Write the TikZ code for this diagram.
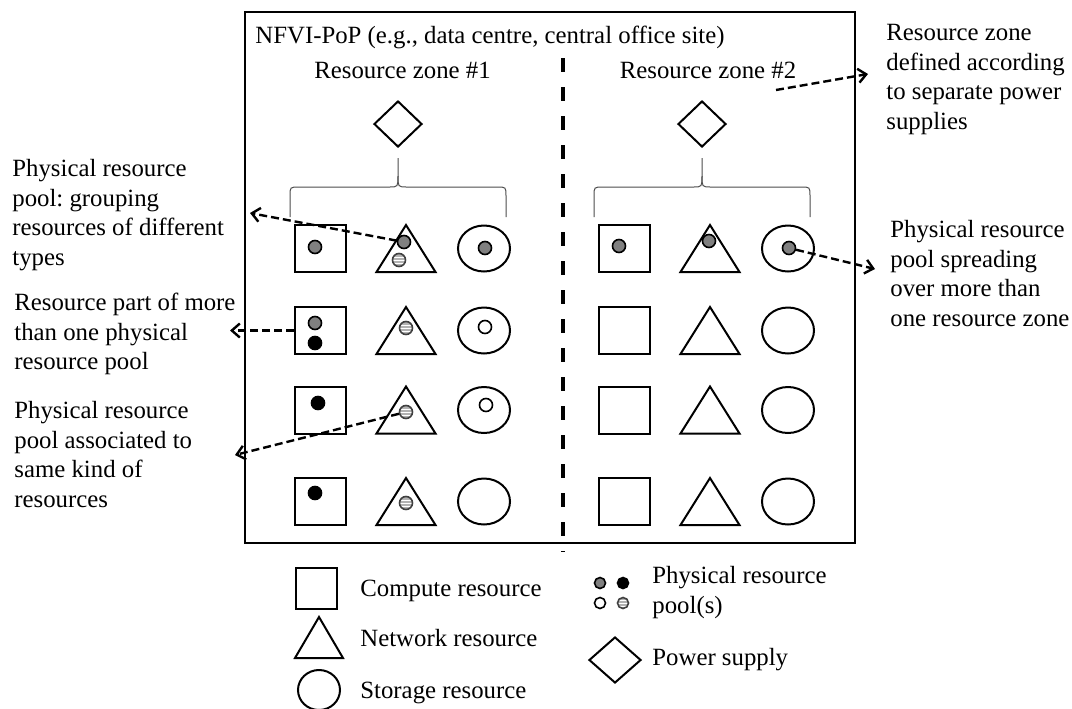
\documentclass[tikz,border=0pt]{standalone}
\usepackage{fontspec}
\setmainfont{Liberation Serif}
\usetikzlibrary{shapes.geometric}
\usetikzlibrary{arrows.meta}
\frenchspacing

\begin{document}
\begin{tikzpicture}[x=0.5pt,y=-0.5pt,
  font=\fontsize{12.4}{14.75}\selectfont,
  shp/.style={draw,line width=1pt},
  comp/.style={shp,rectangle,minimum width=25.5pt,minimum height=23.5pt,inner sep=0},
  stor/.style={shp,ellipse,minimum width=26pt,minimum height=23pt,inner sep=0},
  pwr/.style={shp,diamond,minimum width=24pt,minimum height=23pt,inner sep=0},
  dot/.style={circle,draw,line width=0.8pt,inner sep=0,minimum size=6.5pt},
  greydot/.style={dot,fill=gray},
  blackdot/.style={dot,fill=black},
  opendot/.style={dot,fill=white},
  hatchdot/.style={dot,draw=black!75,fill=gray!60,
    path picture={\foreach \d in {-1.5,0,1.5}
      \draw[white,line width=0.45pt] ([yshift=\d pt]path picture bounding box.west) -- ([yshift=\d pt]path picture bounding box.east);}},
  lbl/.style={anchor=north west,align=left,inner sep=0},
  parrow/.style={dash pattern=on 4pt off 2pt,line width=1.2pt,-{Straight Barb[length=4pt,width=7pt]}},
  brace/.style={draw=black!70,line width=0.5pt},
  netres/.pic={\draw[shp] (0,-23.5) -- (29.5,23.5) -- (-29.5,23.5) -- cycle;}
]
\useasboundingbox (0,0) rectangle (1072,708);

% NFVI-PoP
\draw[line width=1pt] (245,12) rectangle (855,543);
\node[anchor=base west,inner sep=0] (pop) at (255,43) {NFVI-PoP (e.g., data centre, central office site)};
\node[anchor=base,inner sep=0] (zone1) at (402.5,78) {Resource zone \#1};
\node[anchor=base,inner sep=0] (zone2) at (708,78) {Resource zone \#2};
\draw[line width=2.2pt,dash pattern=on 7pt off 7.5pt] (563,58) -- (563,552);

% power supplies and braces
\foreach \z/\dx in {1/0,2/304}{
  \node[pwr] (p\z) at (398+\dx,124) {};
  \draw[brace] (290+\dx,217) -- (290+\dx,196) .. controls (290+\dx,187) .. (299+\dx,187) -- (389+\dx,187)
    .. controls (398+\dx,187) .. (398+\dx,176) -- (398+\dx,158);
  \draw[brace] (398+\dx,176) .. controls (398+\dx,187) .. (407+\dx,187) -- (497+\dx,187)
    .. controls (506+\dx,187) .. (506+\dx,196) -- (506+\dx,217);
}

% resources
\foreach \r/\y in {1/248.5,2/330.5,3/410,4/501.5}
  \foreach \z/\dx in {1/0,2/304}{
    \node[comp] (c\z\r) at (320.5+\dx,\y) {};
    \pic at (406+\dx,\y) {netres};
    \node[stor] (s\z\r) at (484+\dx,\y) {};
  }

% pools
\node[greydot] (c11g) at (315,247) {};
\node[greydot] (t11g) at (404,242) {};
\node[hatchdot] (t11h) at (399,260) {};
\node[greydot] (s11g) at (485,248) {};
\node[greydot] (c21g) at (619,246) {};
\node[greydot] (t21g) at (709,241) {};
\node[greydot] (s21g) at (789,248) {};
\node[greydot] (c12g) at (315,323) {};
\node[blackdot] (c12b) at (315,343) {};
\node[hatchdot] (t12h) at (406,328) {};
\node[opendot] (s12o) at (485,327) {};
\node[blackdot] (c13b) at (318,403) {};
\node[hatchdot] (t13h) at (406,412) {};
\node[opendot] (s13o) at (486,405) {};
\node[blackdot] (c14b) at (315,493) {};
\node[hatchdot] (t14h) at (406,503) {};

% notes
\node[lbl] (n1) at (12,159) {Physical resource\\pool: grouping\\resources of different\\types};
\node[lbl] (n2) at (14,293) {Resource part of more\\than one physical\\resource pool};
\node[lbl] (n3) at (14,401) {Physical resource\\pool associated to\\same kind of\\resources};
\node[lbl] (n4) at (886,24) {Resource zone\\defined according\\to separate power\\supplies};
\node[lbl] (n5) at (890,220) {Physical resource\\pool spreading\\over more than\\one resource zone};

\coordinate (e1) at (250,213);
\coordinate (e2) at (230,330.5);
\coordinate (e3) at (235,455);
\coordinate (e4) at (875,269);
\coordinate (z2) at (776,90);
\coordinate (e5) at (868,74);
\draw[parrow] (t11g) -- (e1);
\draw[parrow] (c12) -- (e2);
\draw[parrow] (t13h) -- (e3);
\draw[parrow] (s21g) -- (e4);
\draw[parrow] (z2) -- (e5);

% legend
\node[comp,minimum width=20.5pt,minimum height=20.5pt] (lc) at (316.5,588.5) {};
\draw[shp] (319,617) -- (343,658) -- (295,658) -- cycle;
\node[stor,minimum width=21pt,minimum height=20pt] (ls) at (319,690) {};
\node[anchor=base west,inner sep=0] (lct) at (360,596) {Compute resource};
\node[anchor=base west,inner sep=0] (lnt) at (360,646) {Network resource};
\node[anchor=base west,inner sep=0] (lst) at (360,698) {Storage resource};
\node[greydot,minimum size=5.5pt] (lg) at (600,583) {};
\node[blackdot,minimum size=5.5pt] (lb) at (623,583) {};
\node[opendot,minimum size=5.5pt] (lo) at (600,603) {};
\node[hatchdot,minimum size=5.5pt] (lh) at (623,603) {};
\node[lbl] (lpt) at (652,566) {Physical resource\\pool(s)};
\node[pwr,minimum width=26pt,minimum height=23pt] (lp) at (615,660) {};
\node[anchor=base west,inner sep=0] (lpw) at (652,665) {Power supply};
\end{tikzpicture}
\end{document}
